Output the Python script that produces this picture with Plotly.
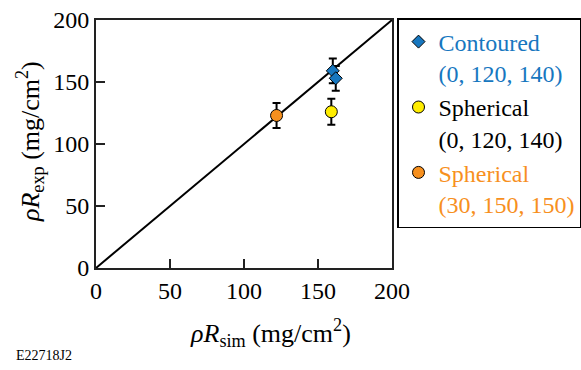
import plotly.graph_objects as go

# Data
cont_x = [160, 162]
cont_y = [159, 153]
cont_err = [10, 10]
sph1_x = [159]
sph1_y = [126]
sph1_err = [10.5]
sph2_x = [122]
sph2_y = [123]
sph2_err = [10]
line_xy = [0, 200]
ticks = [0, 50, 100, 150, 200]

BLUE = "#1777bf"
YELLOW = "#ffed00"
ORANGE = "#f7901e"
FONT = "Liberation Serif"

fig = go.Figure()
fig.add_trace(go.Scatter(x=line_xy, y=line_xy, mode="lines",
                         line=dict(color="black", width=2), showlegend=False, hoverinfo="skip"))
err = dict(type="data", color="black", thickness=2, width=4)
fig.add_trace(go.Scatter(x=cont_x, y=cont_y, mode="markers",
                         error_y=dict(array=cont_err, **err),
                         marker=dict(symbol="diamond", size=10, color=BLUE, line=dict(color="black", width=1)),
                         name=f'<span style="color:{BLUE}">Contoured<br>(0, 120, 140)</span>'))
fig.add_trace(go.Scatter(x=sph1_x, y=sph1_y, mode="markers",
                         error_y=dict(array=sph1_err, **err),
                         marker=dict(symbol="circle", size=12, color=YELLOW, line=dict(color="black", width=1)),
                         name='<span style="color:black">Spherical<br>(0, 120, 140)</span>'))
fig.add_trace(go.Scatter(x=sph2_x, y=sph2_y, mode="markers",
                         error_y=dict(array=sph2_err, **err),
                         marker=dict(symbol="circle", size=12, color=ORANGE, line=dict(color="black", width=1)),
                         name=f'<span style="color:{ORANGE}">Spherical<br>(30, 150, 150)</span>'))

axis_common = dict(range=[0, 200], tickvals=ticks, ticks="inside", ticklen=9, tickwidth=2,
                   tickcolor="#222", showline=True, linecolor="#222", linewidth=2, mirror=True,
                   showgrid=False, zeroline=False, tickfont=dict(family=FONT, size=24, color="black"))
fig.update_xaxes(**axis_common)
fig.update_yaxes(**axis_common)

fig.add_annotation(text="<i>ρR</i><sub>sim</sub> (mg/cm<sup>2</sup>)", xref="paper", yref="paper",
                   x=(270 - 96) / 296, y=(268 - 333) / 248, xanchor="center", yanchor="middle",
                   showarrow=False, font=dict(family=FONT, size=26, color="black"))
fig.add_annotation(text="<i>ρR</i><sub>exp</sub> (mg/cm<sup>2</sup>)", xref="paper", yref="paper",
                   x=(30 - 96) / 296, y=(268 - 142) / 248, xanchor="center", yanchor="middle",
                   textangle=-90, showarrow=False, font=dict(family=FONT, size=26, color="black"))
fig.add_annotation(text="E22718J2", xref="paper", yref="paper", x=(14 - 96) / 296, y=(268 - 355) / 248,
                   xanchor="left", yanchor="middle", showarrow=False,
                   font=dict(family=FONT, size=14, color="black"))

fig.update_layout(
    width=581, height=370,
    margin=dict(l=96, r=189, t=20, b=102, autoexpand=False),
    plot_bgcolor="white", paper_bgcolor="white",
    font=dict(family=FONT),
    legend=dict(x=(397 - 96) / 296, y=1.008, xanchor="left", yanchor="top",
                bordercolor="black", borderwidth=1.5, bgcolor="white",
                font=dict(family=FONT, size=24), tracegroupgap=0, valign="top",
                itemwidth=30, maxheight=1),
)
fig.write_html("out.html")
